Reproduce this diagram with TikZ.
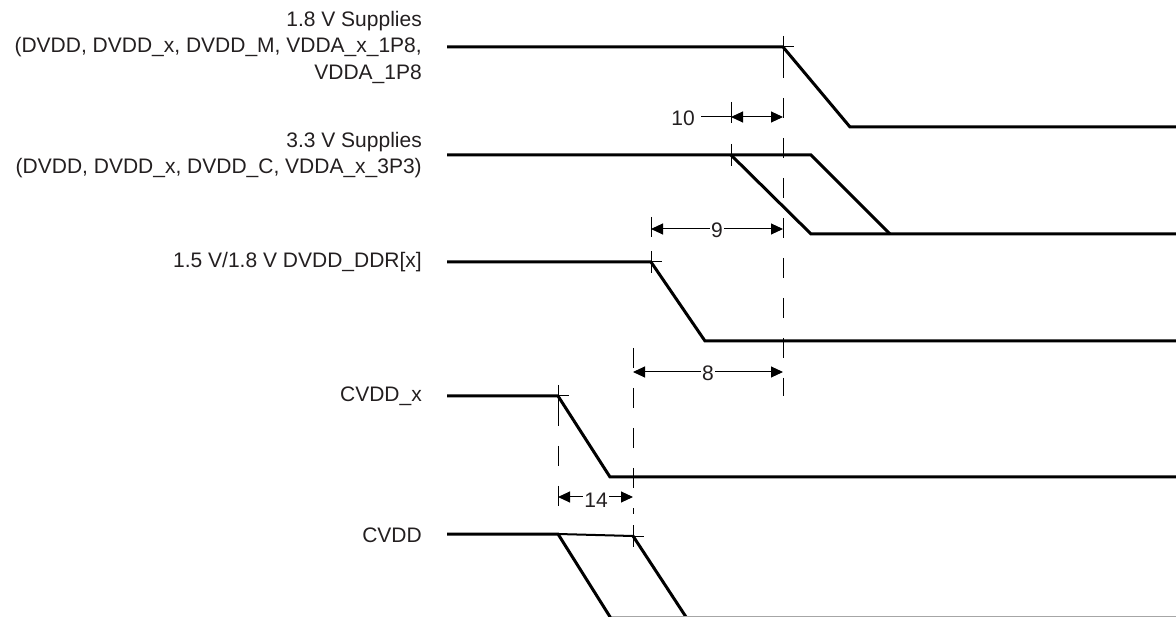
\documentclass[tikz,border=0pt]{standalone}
\usepackage{fontspec}
\setmainfont{Liberation Sans}
\usetikzlibrary{arrows.meta}
\definecolor{txt}{HTML}{231F20}
\begin{document}
\begin{tikzpicture}[x=1pt,y=-1pt,
  sig/.style={line width=3pt, line join=miter, line cap=butt},
  thinline/.style={line width=1pt},
  vdashed/.style={line width=1pt, dash pattern=on 20pt off 20pt},
  lbl/.style={anchor=east, align=right, font=\fontsize{21}{26.5}\selectfont, text=txt, inner sep=0pt},
  dimarrow/.style={line width=1pt, {Triangle[length=12pt,width=11pt]}-{Triangle[length=12pt,width=11pt]}},
  num/.style={font=\fontsize{21}{24}\selectfont, text=txt, fill=white, inner sep=1pt},
  crossmark/.style={line width=1pt}
]
\useasboundingbox (0,0) rectangle (1176,617);

% signal coordinates
\coordinate (s1) at (447,47);  \coordinate (t1) at (783,47);
\coordinate (b1) at (850,127); \coordinate (e1) at (1176,127);
\coordinate (s2) at (447,155); \coordinate (t2) at (731,155);
\coordinate (c2) at (811,155); \coordinate (b2a) at (811,234);
\coordinate (b2b) at (890,234); \coordinate (e2) at (1176,234);
\coordinate (s3) at (447,262); \coordinate (t3) at (651,262);
\coordinate (b3) at (705,341); \coordinate (e3) at (1176,341);
\coordinate (s4) at (447,396); \coordinate (t4) at (558,396);
\coordinate (b4) at (610,477); \coordinate (e4) at (1176,477);
\coordinate (s5) at (447,534); \coordinate (t5a) at (558,534);
\coordinate (t5) at (633,536);
\coordinate (b5a) at (612,620); \coordinate (b5b) at (688,620);
\coordinate (g1) at (612,616.5); \coordinate (g2) at (1176,616.5);

% labels
\node[lbl] (L1) at (422,47) {1.8 V Supplies\\(DVDD, DVDD\_x, DVDD\_M, VDDA\_x\_1P8,\\VDDA\_1P8};
\node[lbl] (L2) at (422,155) {3.3 V Supplies\\(DVDD, DVDD\_x, DVDD\_C, VDDA\_x\_3P3)};
\node[lbl] (L3) at (422,262) {1.5 V/1.8 V DVDD\_DDR[x]};
\node[lbl] (L4) at (422,396) {CVDD\_x};
\node[lbl] (L5) at (422,535) {CVDD};

% signals
\draw[sig] (s1) -- (t1) -- (b1) -- (e1);
\draw[sig] (s2) -- (c2) -- (b2b);
\draw[sig] (t2) -- (b2a) -- (e2);
\draw[sig] (s3) -- (t3) -- (b3) -- (e3);
\draw[sig] (s4) -- (t4) -- (b4) -- (e4);
\draw[sig] (s5) -- (t5a) -- (b5a);
\draw[line width=2pt] (t5a) -- (t5);
\draw[sig] (t5) -- (b5b);
\draw[line width=1pt, black!35] (g1) -- (g2);

% cross marks
\foreach \p in {t1,t2,t3,t4,t5}
  \draw[crossmark] (\p) +(-10,0) -- +(11,0) (\p) +(0,-11) -- +(0,11);

% dashed reference lines
\coordinate (d1a) at (783,58);  \coordinate (d1b) at (783,396);
\coordinate (d2a) at (633,348); \coordinate (d2b) at (633,514);
\coordinate (d3a) at (558,406); \coordinate (d3b) at (558,508);
\draw[vdashed] (d1a) -- (d1b);
\draw[vdashed] (d2a) -- (d2b);
\draw[vdashed] (d3a) -- (d3b);

% dimension 10
\coordinate (a10l) at (731,117); \coordinate (a10r) at (783,117);
\coordinate (a10x) at (701,117);
\draw[thinline] (731,102) -- (731,123);
\draw[thinline] (a10x) -- (a10l);
\draw[dimarrow] (a10l) -- (a10r);
\node[num, fill=none, anchor=east] (n10) at (696,118) {10};

% dimension 9
\coordinate (a9l) at (651,229); \coordinate (a9r) at (783,229);
\draw[thinline] (651,217) -- (651,237);
\draw[dimarrow] (a9l) -- (a9r) node[num, midway, yshift=-1pt] (n9) {9};

% dimension 8
\coordinate (a8l) at (633,372); \coordinate (a8r) at (783,372);
\draw[dimarrow] (a8l) -- (a8r) node[num, midway, yshift=-1pt] (n8) {8};

% dimension 14
\coordinate (a14l) at (558,497); \coordinate (a14r) at (633,497);
\draw[dimarrow] (a14l) -- (a14r);
\node[num] (n14) at (596,500) {14};
\end{tikzpicture}
\end{document}
